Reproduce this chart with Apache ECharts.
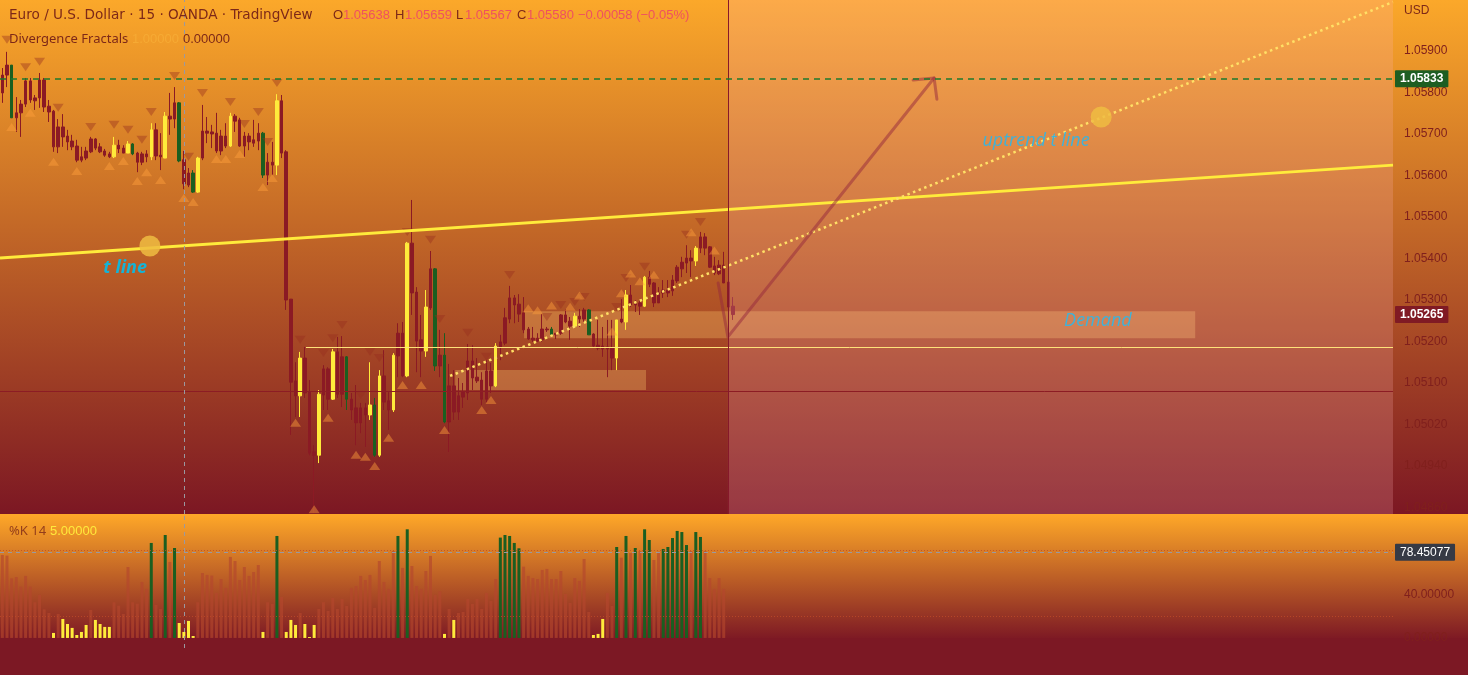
<!DOCTYPE html>
<html>
<head>
<meta charset="utf-8">
<script src="https://cdn.jsdelivr.net/npm/echarts@6/dist/echarts.min.js"></script>
<style>
html, body { margin: 0; padding: 0; background: #7c1824; }
#chart { width: 1468px; height: 675px; }
</style>
</head>
<body>
<div id="chart"></div>
<script>
// EURUSD 15m candles (index 0..157)
const opens = [1.05842,1.05866,1.05739,1.05751,1.05772,1.05828,1.05828,1.05787,1.05830,1.05830,
  1.05767,1.05755,1.05717,1.05717,1.05695,1.05683,1.05671,1.05645,1.05659,1.05688,
  1.05688,1.05669,1.05659,1.05652,1.05645,1.05673,1.05666,1.05654,1.05652,1.05654,
  1.05652,1.05652,1.05645,1.05710,1.05649,1.05642,1.05743,1.05775,1.05635,1.05638,
  1.05606,1.05560,1.05560,1.05707,1.05707,1.05705,1.05702,1.05695,1.05695,1.05671,
  1.05743,1.05734,1.05695,1.05695,1.05686,1.05702,1.05601,1.05632,1.05632,1.05625,
  1.05780,1.05657,1.05302,1.05105,1.05069,1.05160,1.05078,1.04934,1.04926,1.05134,
  1.05134,1.05061,1.05175,1.05163,1.05061,1.05061,1.05040,1.05040,1.05040,1.05023,
  1.04926,1.04926,1.05117,1.05057,1.05035,1.05220,1.05220,1.05117,1.05437,1.05319,
  1.05204,1.05177,1.05375,1.05141,1.05167,1.05006,1.05093,1.05093,1.05069,1.05078,
  1.05153,1.05153,1.05114,1.05107,1.05129,1.05129,1.05093,1.05199,1.05257,1.05305,
  1.05305,1.05290,1.05269,1.05230,1.05208,1.05208,1.05230,1.05230,1.05216,1.05220,
  1.05264,1.05264,1.05249,1.05237,1.05261,1.05276,1.05216,1.05218,1.05191,1.05189,
  1.05187,1.05184,1.05160,1.05254,1.05247,1.05312,1.05293,1.05293,1.05285,1.05355,
  1.05341,1.05317,1.05324,1.05324,1.05348,1.05379,1.05391,1.05401,1.05401,1.05394,
  1.05452,1.05452,1.05428,1.05382,1.05384,1.05384,1.05343,1.05285];
const closes = [1.05799,1.05842,1.05866,1.05739,1.05751,1.05772,1.05782,1.05780,1.05787,1.05765,
  1.05753,1.05669,1.05669,1.05693,1.05681,1.05669,1.05637,1.05637,1.05642,1.05657,
  1.05666,1.05657,1.05649,1.05645,1.05673,1.05664,1.05654,1.05676,1.05676,1.05632,
  1.05632,1.05645,1.05710,1.05647,1.05645,1.05743,1.05736,1.05736,1.05775,1.05580,
  1.05577,1.05606,1.05642,1.05642,1.05702,1.05700,1.05659,1.05659,1.05671,1.05743,
  1.05731,1.05671,1.05671,1.05681,1.05678,1.05683,1.05702,1.05601,1.05625,1.05780,
  1.05654,1.05300,1.05102,1.05069,1.05160,1.05076,1.04931,1.04926,1.05073,1.05071,
  1.05061,1.05175,1.05073,1.05073,1.05163,1.05035,1.05004,1.05004,1.05023,1.05047,
  1.05047,1.05117,1.05054,1.05035,1.05167,1.05165,1.05117,1.05437,1.05317,1.05201,
  1.05177,1.05283,1.05281,1.05375,1.05141,1.05167,1.05006,1.05030,1.05030,1.05066,
  1.05076,1.05112,1.05105,1.05061,1.05061,1.05093,1.05189,1.05187,1.05196,1.05254,
  1.05288,1.05266,1.05228,1.05206,1.05204,1.05201,1.05204,1.05228,1.05230,1.05216,
  1.05220,1.05247,1.05237,1.05261,1.05254,1.05254,1.05276,1.05189,1.05184,1.05182,
  1.05182,1.05160,1.05252,1.05247,1.05312,1.05288,1.05288,1.05285,1.05355,1.05338,
  1.05293,1.05293,1.05317,1.05317,1.05322,1.05346,1.05375,1.05389,1.05394,1.05425,
  1.05425,1.05425,1.05379,1.05365,1.05363,1.05341,1.05283,1.05265];
const lows = [1.05775,1.05813,1.05739,1.05705,1.05693,1.05765,1.05775,1.05758,1.05763,1.05753,
  1.05729,1.05657,1.05654,1.05669,1.05661,1.05661,1.05632,1.05632,1.05637,1.05654,
  1.05661,1.05654,1.05645,1.05642,1.05642,1.05654,1.05654,1.05654,1.05649,1.05608,
  1.05625,1.05632,1.05637,1.05637,1.05613,1.05642,1.05698,1.05714,1.05632,1.05567,
  1.05572,1.05558,1.05558,1.05637,1.05678,1.05666,1.05654,1.05649,1.05666,1.05669,
  1.05705,1.05669,1.05645,1.05661,1.05669,1.05661,1.05594,1.05577,1.05601,1.05601,
  1.05642,1.05276,1.04975,1.05018,1.05018,1.05064,1.04926,1.04787,1.04907,1.05035,
  1.05035,1.05059,1.05064,1.05042,1.05035,1.05011,1.04950,1.04979,1.04946,1.05011,
  1.04922,1.04922,1.05035,1.04987,1.05030,1.05114,1.05114,1.05114,1.05264,1.05126,
  1.05114,1.05163,1.05276,1.05129,1.05114,1.05003,1.04934,1.05011,1.05011,1.05040,
  1.05059,1.05083,1.05100,1.05047,1.05054,1.05076,1.05090,1.05155,1.05191,1.05244,
  1.05244,1.05247,1.05220,1.05204,1.05199,1.05199,1.05199,1.05223,1.05211,1.05206,
  1.05216,1.05244,1.05204,1.05235,1.05235,1.05247,1.05216,1.05187,1.05179,1.05163,
  1.05114,1.05131,1.05131,1.05244,1.05228,1.05283,1.05271,1.05264,1.05283,1.05331,
  1.05283,1.05293,1.05305,1.05307,1.05310,1.05341,1.05355,1.05365,1.05355,1.05382,
  1.05413,1.05408,1.05377,1.05360,1.05360,1.05341,1.05276,1.05252];
const highs = [1.05859,1.05898,1.05866,1.05789,1.05782,1.05835,1.05835,1.05794,1.05847,1.05835,
  1.05782,1.05758,1.05736,1.05748,1.05710,1.05698,1.05686,1.05669,1.05669,1.05693,
  1.05690,1.05678,1.05664,1.05657,1.05693,1.05686,1.05673,1.05683,1.05678,1.05657,
  1.05657,1.05661,1.05726,1.05726,1.05702,1.05753,1.05799,1.05813,1.05777,1.05659,
  1.05618,1.05613,1.05645,1.05770,1.05741,1.05722,1.05751,1.05710,1.05726,1.05751,
  1.05748,1.05739,1.05705,1.05702,1.05734,1.05726,1.05705,1.05654,1.05681,1.05796,
  1.05794,1.05661,1.05302,1.05150,1.05175,1.05187,1.05107,1.04950,1.05083,1.05143,
  1.05138,1.05182,1.05211,1.05213,1.05165,1.05076,1.05095,1.05052,1.05052,1.05150,
  1.05064,1.05131,1.05179,1.05078,1.05172,1.05244,1.05247,1.05440,1.05541,1.05331,
  1.05264,1.05324,1.05418,1.05377,1.05228,1.05220,1.05146,1.05131,1.05112,1.05100,
  1.05194,1.05191,1.05160,1.05126,1.05155,1.05148,1.05196,1.05216,1.05281,1.05334,
  1.05312,1.05314,1.05307,1.05235,1.05235,1.05220,1.05266,1.05235,1.05235,1.05220,
  1.05266,1.05278,1.05259,1.05269,1.05278,1.05281,1.05278,1.05220,1.05252,1.05235,
  1.05252,1.05252,1.05252,1.05302,1.05324,1.05336,1.05300,1.05300,1.05358,1.05370,
  1.05343,1.05331,1.05348,1.05348,1.05360,1.05384,1.05404,1.05432,1.05420,1.05430,
  1.05464,1.05461,1.05430,1.05404,1.05396,1.05416,1.05372,1.05307];
// bar colouring from the indicator: r = plain, y = yellow, g = green
const barColors = ('rrgrrrrrrr' + 'rrrrrrrrrr' + 'rrrryrrygr' + 'rryrryrrgr' + 'rgyrrrrrry' +
  'rrrrrrgrry' + 'rrrryrrryr' + 'ryrrgrrrry' + 'gyrryrryrr' + 'ryrgrgrrrr' +
  'rrrrrryrrr' + 'rrrrrrrrgr' + 'rrryrrgrrr' + 'rryryrrryr' + 'rrrrrrrrry' + 'rrrrrrrr').split('');

// Divergence fractals [bar index, price]
const fractalDown = [[1,1.05927],[5,1.05861],[8,1.05874],[12,1.05763],[19,1.05717],[24,1.05722],
  [27,1.05710],[30,1.05686],[32,1.05753],[37,1.05840],[40,1.05645],[43,1.05799],[49,1.05777],
  [52,1.05724],[55,1.05753],[57,1.05681],[59,1.05823],[64,1.05204],[69,1.05172],[71,1.05208],
  [73,1.05240],[77,1.05071],[79,1.05175],[81,1.05160],[87,1.05464],[92,1.05445],[94,1.05254],
  [100,1.05221],[104,1.05163],[109,1.05360],[117,1.05259],[120,1.05288],[123,1.05295],
  [125,1.05307],[132,1.05283],[134,1.05353],[138,1.05380],[147,1.05457],[150,1.05488]];
const fractalUp = [[2,1.05717],[6,1.05751],[11,1.05633],[16,1.05611],[23,1.05623],[26,1.05635],
  [29,1.05587],[31,1.05608],[34,1.05589],[39,1.05546],[41,1.05536],[46,1.05640],[48,1.05640],
  [51,1.05652],[56,1.05572],[58,1.05594],[63,1.05004],[67,1.04796],[70,1.05016],[76,1.04927],
  [78,1.04922],[80,1.04900],[83,1.04968],[86,1.05095],[90,1.05095],[95,1.04987],[103,1.05035],
  [105,1.05059],[113,1.05280],[115,1.05275],[118,1.05287],[122,1.05284],[124,1.05311],
  [131,1.05224],[133,1.05316],[135,1.05364],[137,1.05345],[140,1.05361],[148,1.05463],[153,1.05419]];

// %K 14 values per bar
const kValues = [76.0,75.4,54.6,55.8,47.0,56.8,47.0,32.7,39.4,26.2,
  22.9,4.6,22.0,17.4,12.8,9.2,2.7,5.5,11.9,25.6,
  16.5,12.8,10.1,10.1,32.7,29.6,22.0,65.0,32.7,31.4,
  51.3,44.9,87.0,30.2,26.5,94.3,69.6,82.4,13.7,5.5,
  15.6,1.8,32.7,59.5,57.7,57.1,41.2,54.0,45.8,74.2,
  70.5,53.1,65.0,56.8,60.4,66.8,5.5,32.7,31.1,93.4,
  37.5,5.5,16.5,11.9,22.9,12.8,0.9,11.9,26.5,32.7,
  24.7,36.6,26.5,35.7,29.3,45.8,47.6,56.8,53.1,57.7,
  27.5,70.5,51.3,44.9,79.6,93.4,64.1,99.5,65.9,47.6,
  44.9,61.3,75.1,39.4,42.7,3.7,26.5,16.5,22.9,23.8,
  35.7,31.1,35.7,26.5,41.2,33.9,54.0,91.9,94.3,93.4,
  87.0,82.1,65.3,56.8,54.9,54.0,62.3,63.2,54.0,54.0,
  61.3,40.3,32.0,54.9,52.2,72.3,23.8,2.7,3.7,17.4,
  41.2,29.3,83.3,73.5,93.4,77.8,82.4,79.6,99.5,89.7,
  71.4,79.0,81.5,83.3,91.5,98.0,97.0,85.1,79.6,97.0,
  92.5,79.6,54.9,44.9,54.9,44.9];

// axis ticks
const priceTicks = [1.048,1.049,1.050,1.051,1.052,1.053,1.054,1.055,1.056,1.057,1.058,1.059];
const priceTickLabels = ['1.04860','1.04940','1.05020','1.05100','1.05200','1.05300','1.05400',
  '1.05500','1.05600','1.05700','1.05800','1.05900'];
const kTicks = [0, 40, 80];

// drawings [bar index, price]
const tLine = [[-0.5, 1.05401], [298.8, 1.05625]];
const uptrendLine = [[96.2, 1.05117], [298.8, 1.06018]];
const arrowPath = [[153.8, 1.05341], [155.9, 1.05211], [200.2, 1.05835]];
const arrowHead = [[195.7, 1.05830], [200.2, 1.05835], [200.8, 1.05784]];
const circlePoints = [[31.7, 1.05430], [236.1, 1.05741]];
const zoneLow = [[97.3, 1.05131], [138.3, 1.05083]];
const zoneDemand = [[112.1, 1.05273], [256.3, 1.05208]];
const replayStart = 155.9;
const crossBar = 39;
const crossK = 78.45077;
const targetPrice = 1.05833;
const lastPrice = 1.05265;
const levelDark = 1.05081;
const levelLight = [65.25, 1.05187];

const X_MIN = -0.5, X_MAX = 298.8;
const P_MIN = 1.047843, P_MAX = 1.060229;
const K_MIN = -9.2, K_MAX = 112.6;

const RED = '#8b1a24', YELLOW = '#ffeb3b', GREEN = '#1b5e20';
const DARK = '#7d2818', PINK = '#ef5060';
const colorMap = { r: RED, y: YELLOW, g: GREEN };

const candleData = opens.map((o, i) => {
  const c = colorMap[barColors[i]];
  return {
    value: [i, o, closes[i], lows[i], highs[i]],
    itemStyle: { color: c, color0: c, borderColor: c, borderColor0: c }
  };
});

const kData = [];
kValues.forEach((v, i) => {
  const c = v > 80 ? GREEN : (v < 20 ? YELLOW : 'rgba(180,70,45,0.65)');
  kData.push({ value: [i, v], itemStyle: { color: c } });
});

const crossStyle = { color: '#9a98a0', type: [4, 4], width: 1 };
const badge = (text, bg, bold) => ({
  show: true, position: 'end', distance: 2, formatter: text,
  backgroundColor: bg, color: '#ffffff', fontSize: 12, fontFamily: 'Liberation Sans',
  fontWeight: bold ? 'bold' : 'normal', padding: [3, 5, 2, 5], borderRadius: 1
});

const txt = (x, y, text, fill, size, family, extra) => Object.assign({
  type: 'text', x: x, y: y, z: 100, silent: true,
  style: Object.assign({ text: text, fill: fill, fontSize: size || 13,
    fontFamily: family || 'Noto Sans', verticalAlign: 'middle' }, extra || {})
});
const NUM = 'Liberation Sans';

const chart = echarts.init(document.getElementById('chart'));

chart.setOption({
  animation: false,
  textStyle: { fontFamily: 'Liberation Sans' },
  graphic: [
    { type: 'rect', z: -10, silent: true, shape: { x: 0, y: 0, width: 1468, height: 514 },
      style: { fill: new echarts.graphic.LinearGradient(0, 0, 0, 1, [
        { offset: 0, color: '#fba82a' }, { offset: 1, color: '#7c1723' }]) } },
    { type: 'rect', z: -10, silent: true, shape: { x: 0, y: 514, width: 1468, height: 124 },
      style: { fill: new echarts.graphic.LinearGradient(0, 0, 0, 1, [
        { offset: 0, color: '#ffa828' }, { offset: 1, color: '#7e1a24' }]) } },
    { type: 'rect', z: -10, silent: true, shape: { x: 0, y: 638, width: 1468, height: 37 },
      style: { fill: '#7c1824' } },
    txt(9, 15, 'Euro / U.S. Dollar · 15 · OANDA · TradingView', DARK, 13.6, 'DejaVu Sans'),
    txt(333, 15, 'O', DARK, 13, NUM), txt(343, 15, opens[crossBar].toFixed(5), PINK, 13, NUM),
    txt(395, 15, 'H', DARK, 13, NUM), txt(405, 15, highs[crossBar].toFixed(5), PINK, 13, NUM),
    txt(456, 15, 'L', DARK, 13, NUM), txt(465, 15, lows[crossBar].toFixed(5), PINK, 13, NUM),
    txt(517, 15, 'C', DARK, 13, NUM), txt(527, 15, closes[crossBar].toFixed(5), PINK, 13, NUM),
    txt(578, 15, '−0.00058 (−0.05%)', PINK, 13, NUM),
    txt(9, 39, 'Divergence Fractals', DARK, 13),
    txt(132, 39, '1.00000', '#f6aa34', 13, NUM),
    txt(183, 39, '0.00000', DARK, 13, NUM),
    txt(9, 531, '%K 14', 'rgba(125,40,24,0.8)', 13),
    txt(50, 531, '5.00000', '#ffe93b', 13, NUM),
    txt(1404, 11, 'USD', DARK, 12, NUM)
  ],
  grid: [
    { left: 0, top: 0, width: 1393, height: 514 },
    { left: 0, top: 515, width: 1393, height: 133 }
  ],
  xAxis: [
    { type: 'value', gridIndex: 0, min: X_MIN, max: X_MAX, show: false },
    { type: 'value', gridIndex: 1, min: X_MIN, max: X_MAX, show: false }
  ],
  yAxis: [
    { type: 'value', gridIndex: 0, position: 'right', min: P_MIN, max: P_MAX,
      axisLine: { show: false }, axisTick: { show: false }, splitLine: { show: false },
      axisLabel: { margin: 11, color: '#80201d', fontSize: 12, fontFamily: 'Liberation Sans',
        customValues: priceTicks,
        formatter: v => {
          const i = priceTicks.findIndex(t => Math.abs(t - v) < 1e-7);
          return i >= 0 ? priceTickLabels[i] : '';
        } } },
    { type: 'value', gridIndex: 1, position: 'right', min: K_MIN, max: K_MAX,
      axisLine: { show: false }, axisTick: { show: false }, splitLine: { show: false },
      axisLabel: { margin: 11, color: '#80201d', fontSize: 12, fontFamily: 'Liberation Sans',
        customValues: kTicks, formatter: v => v.toFixed(5) } }
  ],
  series: [
    {
      name: 'EURUSD', type: 'candlestick', xAxisIndex: 0, yAxisIndex: 0, z: 2,
      barWidth: 3, encode: { x: 0, y: [1, 2, 3, 4] },
      itemStyle: { borderWidth: 1 },
      data: candleData,
      markArea: {
        silent: true,
        itemStyle: { color: 'rgba(245,190,100,0.35)' },
        data: [
          [{ coord: zoneLow[0] }, { coord: zoneLow[1] }],
          [{ coord: zoneDemand[0] }, { coord: zoneDemand[1] }]
        ]
      },
      markLine: {
        silent: true, symbol: ['none', 'none'], precision: 5, label: { show: false },
        data: [
          { yAxis: levelDark, lineStyle: { color: '#8c1c24', type: 'solid', width: 1 } },
          [{ coord: levelLight, lineStyle: { color: '#ffe37a', type: 'solid', width: 1 } },
           { coord: [X_MAX, levelLight[1]] }],
          { xAxis: replayStart, lineStyle: { color: '#86182a', type: 'solid', width: 1 } },
          { xAxis: crossBar, lineStyle: crossStyle },
          { yAxis: targetPrice, lineStyle: { color: '#1c7a2e', type: [6, 5], width: 1.5 },
            label: badge(targetPrice.toFixed(5), '#1e5e22', true) },
          { yAxis: lastPrice, lineStyle: { color: 'rgba(0,0,0,0)', width: 1 },
            label: badge(lastPrice.toFixed(5), '#801a24', true) }
        ]
      }
    },
    {
      name: 'replay', type: 'line', xAxisIndex: 0, yAxisIndex: 0, z: 3, silent: true,
      symbol: 'none', lineStyle: { width: 0 },
      areaStyle: { color: 'rgba(255,180,190,0.3)', origin: 'start' },
      data: [[replayStart, P_MAX], [X_MAX, P_MAX]]
    },
    {
      name: 'fractal down', type: 'scatter', xAxisIndex: 0, yAxisIndex: 0, z: 3, silent: true,
      symbol: 'triangle', symbolRotate: 180, symbolSize: [11, 8],
      itemStyle: { color: 'rgba(150,45,30,0.4)', opacity: 1 }, data: fractalDown
    },
    {
      name: 'fractal up', type: 'scatter', xAxisIndex: 0, yAxisIndex: 0, z: 3, silent: true,
      symbol: 'triangle', symbolSize: [11, 8],
      itemStyle: { color: 'rgba(255,160,60,0.45)', opacity: 1 }, data: fractalUp
    },
    {
      name: 't line', type: 'line', xAxisIndex: 0, yAxisIndex: 0, z: 4, silent: true,
      symbol: 'none', lineStyle: { color: YELLOW, width: 3 }, data: tLine
    },
    {
      name: 'uptrend t line', type: 'line', xAxisIndex: 0, yAxisIndex: 0, z: 4, silent: true,
      symbol: 'none', lineStyle: { color: '#ffe066', width: 2.5, type: [2.5, 3.5] }, data: uptrendLine
    },
    {
      name: 'arrow', type: 'line', xAxisIndex: 0, yAxisIndex: 0, z: 4, silent: true,
      symbol: 'none', lineStyle: { color: 'rgba(150,40,60,0.5)', width: 3, cap: 'round', join: 'round' },
      data: arrowPath
    },
    {
      name: 'arrow head', type: 'line', xAxisIndex: 0, yAxisIndex: 0, z: 4, silent: true,
      symbol: 'none', lineStyle: { color: 'rgba(150,40,60,0.5)', width: 3, cap: 'round', join: 'round' },
      data: arrowHead
    },
    {
      name: 'anchors', type: 'scatter', xAxisIndex: 0, yAxisIndex: 0, z: 5, silent: true,
      symbolSize: 21, itemStyle: { color: 'rgba(238,188,66,0.85)', opacity: 1 }, data: circlePoints
    },
    {
      name: 'notes', type: 'scatter', xAxisIndex: 0, yAxisIndex: 0, z: 6, silent: true,
      symbolSize: 1, itemStyle: { color: 'rgba(0,0,0,0)', opacity: 1 },
      label: { show: true, position: 'inside', formatter: p => p.name, opacity: 1,
        textBorderWidth: 0, fontFamily: 'Open Sans', fontStyle: 'italic', fontSize: 18 },
      data: [
        { name: 't line', value: [26.4, 1.05377],
          label: { color: '#14b4d7', fontWeight: 'bold', fontSize: 18 } },
        { name: 'uptrend t line', value: [222.1, 1.05683], label: { color: '#3fb2d8' } },
        { name: 'Demand', value: [235.4, 1.05249], label: { color: '#3fb2d8' } }
      ]
    },
    {
      name: '%K', type: 'bar', xAxisIndex: 1, yAxisIndex: 1, z: 2, silent: true,
      barWidth: 3, data: kData,
      markLine: {
        silent: true, symbol: ['none', 'none'], precision: 5, label: { show: false },
        data: [
          { yAxis: 80, lineStyle: { color: 'rgba(190,75,40,0.8)', type: [1, 2], width: 1 } },
          { yAxis: 20, lineStyle: { color: 'rgba(190,75,40,0.8)', type: [1, 2], width: 1 } },
          { xAxis: crossBar, lineStyle: crossStyle },
          { yAxis: crossK, lineStyle: crossStyle, label: badge(crossK.toFixed(5), '#363a45', false) }
        ]
      }
    }
  ]
});
</script>
</body>
</html>
